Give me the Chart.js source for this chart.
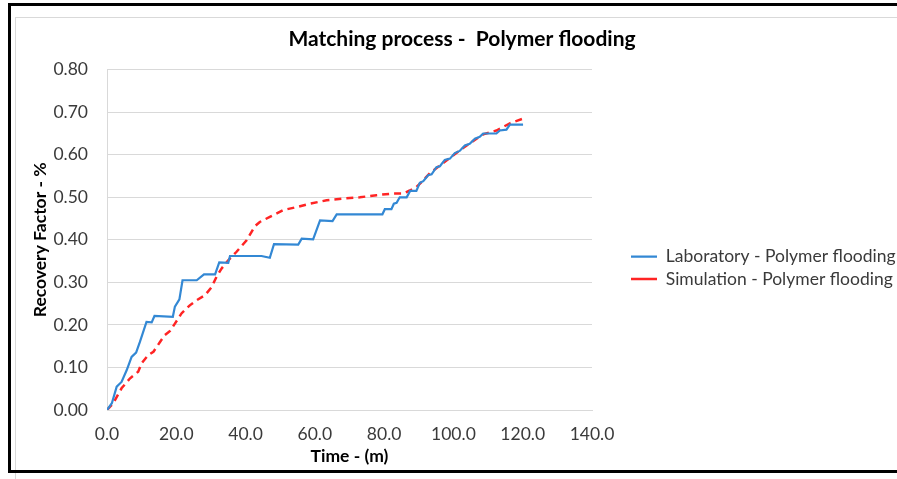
<!DOCTYPE html>
<html>
<head>
<meta charset="utf-8">
<script src="https://cdn.jsdelivr.net/npm/chart.js@4.4.1/dist/chart.umd.min.js"></script>
<style>
    html, body { margin: 0; padding: 0; background: #fff; }
    #wrap { position: relative; width: 897px; height: 479px; overflow: hidden; }
    #inner { position: absolute; left: 15px; top: 17px; width: 900px; height: 480px; border: 1px solid #d9d9d9; }
    #frame { position: absolute; left: 8px; top: 3px; width: 900px; height: 464px; border: 3px solid #000; }
    canvas { position: absolute; left: 0; top: 0; }
</style>
</head>
<body>
<div id="wrap">
    <div id="inner"></div>
    <div id="frame"></div>
    <canvas id="chart" width="897" height="479"></canvas>
</div>
<script>
var labTime = [0, 1.4, 2.8, 4.2, 5.7, 7.1, 8.4, 9.5, 11.4, 12.9,
    13.7, 19.0, 19.6, 20.9, 21.8, 25.9, 28.0, 31.2, 32.4, 35.0,
    35.5, 44.6, 47.0, 48.2, 55.2, 56.2, 59.5, 61.5, 65.1, 66.3,
    79.5, 80.2, 82.1, 82.8, 83.6, 84.5, 86.5, 87.5, 89.3, 90.3,
    91.3, 92.7, 93.7, 95.1, 96.1, 97.5, 99.0, 100.4, 101.8, 103.3,
    104.7, 106.2, 107.6, 108.6, 112.4, 113.4, 115.3, 116.3, 120.1];
var labRecovery = [0, 0.016, 0.055, 0.066, 0.094, 0.125, 0.135, 0.16, 0.207, 0.206,
    0.221, 0.219, 0.243, 0.26, 0.305, 0.305, 0.319, 0.319, 0.347, 0.346,
    0.362, 0.362, 0.358, 0.39, 0.389, 0.403, 0.401, 0.446, 0.444, 0.46,
    0.46, 0.472, 0.472, 0.485, 0.487, 0.50, 0.50, 0.515, 0.515, 0.534,
    0.538, 0.552, 0.554, 0.571, 0.573, 0.588, 0.591, 0.604, 0.609, 0.622,
    0.626, 0.638, 0.642, 0.65, 0.65, 0.657, 0.659, 0.671, 0.671];

var simTime = [0, 1.8, 4.2, 6.6, 9.0, 10.0, 11.9, 13.4, 15.3, 16.7,
    18.2, 19.6, 21.5, 23.9, 25.9, 28.3, 30.2, 31.6, 33.1, 35.0,
    37.4, 40.3, 42.7, 44.1, 47.0, 50.9, 54.7, 58.6, 63.4, 68.2,
    73.0, 77.8, 82.6, 85.5, 87.4, 89.3, 91.3, 93.2, 96.1, 99.0,
    101.8, 104.7, 108.6, 112.4, 116.3, 120.1];
var simRecovery = [0, 0.016, 0.051, 0.074, 0.09, 0.11, 0.129, 0.137, 0.16, 0.176,
    0.186, 0.203, 0.227, 0.246, 0.258, 0.27, 0.289, 0.313, 0.333, 0.352,
    0.372, 0.399, 0.432, 0.442, 0.454, 0.47, 0.477, 0.485, 0.493, 0.497,
    0.50, 0.505, 0.509, 0.509, 0.516, 0.524, 0.54, 0.557, 0.575, 0.593,
    0.61, 0.627, 0.648, 0.657, 0.674, 0.685];

var seriesNames = ["Laboratory - Polymer flooding", "Simulation - Polymer flooding"];
var chartTitle = "Matching process -  Polymer flooding";
var xTitle = "Time - (m)";
var yTitle = "Recovery Factor - %";

function toPoints(xs, ys) {
    return xs.map(function (x, i) { return { x: x, y: ys[i] }; });
}

var FONT = "Lato, 'Open Sans', sans-serif";
var TEXT = "#3a3a3a";

new Chart(document.getElementById("chart").getContext("2d"), {
    type: "line",
    data: {
        datasets: [
            {
                label: seriesNames[0],
                data: toPoints(labTime, labRecovery),
                borderColor: "#3388d4",
                backgroundColor: "#3388d4",
                borderWidth: 2.2,
                pointRadius: 0,
                tension: 0,
            },
            {
                label: seriesNames[1],
                data: toPoints(simTime, simRecovery),
                borderColor: "#ff2424",
                backgroundColor: "#ff2424",
                borderWidth: 2.5,
                borderDash: [7, 5],
                pointRadius: 0,
                tension: 0,
            },
        ],
    },
    options: {
        responsive: false,
        animation: false,
        // left padding only shifts the centred title to match the original
        layout: { padding: { top: 27, right: 0, bottom: 0, left: 27 } },
        scales: {
            x: {
                type: "linear",
                min: 0,
                max: 140,
                afterFit: function (s) { s.height = 69; },
                grid: { display: false, drawTicks: false },
                border: { display: true, color: "#d9d9d9", width: 1 },
                ticks: {
                    stepSize: 20,
                    padding: 14,
                    color: TEXT,
                    font: { family: FONT, size: 17.5 },
                    callback: function (v) { return v.toFixed(1); },
                },
                title: {
                    display: true,
                    text: xTitle,
                    color: "#000",
                    font: { family: FONT, size: 17.5, weight: "bold" },
                    padding: { top: 0, bottom: 12 },
                },
            },
            y: {
                min: 0,
                max: 0.8,
                afterFit: function (s) { s.width = 80; },
                grid: { color: "#d9d9d9", lineWidth: 1, drawTicks: false },
                border: { display: true, color: "#d9d9d9", width: 1 },
                ticks: {
                    stepSize: 0.1,
                    padding: 19,
                    color: TEXT,
                    font: { family: FONT, size: 17.5 },
                    callback: function (v) { return v.toFixed(2); },
                },
                title: {
                    display: true,
                    text: yTitle,
                    color: "#000",
                    font: { family: FONT, size: 17.5, weight: "bold" },
                    padding: { top: 3, bottom: 0 },
                },
            },
            gap: {
                type: "linear",
                position: "right",
                display: true,
                afterFit: function (s) { s.width = 34; },
                grid: { display: false },
                border: { display: false },
                ticks: { display: false },
            },
        },
        plugins: {
            title: {
                display: true,
                text: chartTitle,
                color: "#000",
                font: { family: FONT, size: 21, weight: "bold" },
                padding: { top: 0, bottom: 17.5 },
            },
            legend: {
                position: "right",
                fullSize: false,
                align: "center",
                maxWidth: 271,
                title: { display: true, text: "", padding: { top: 0, bottom: 32 }, font: { size: 20 } },
                labels: {
                    usePointStyle: true,
                    pointStyle: "line",
                    pointStyleWidth: 26,
                    padding: 5,
                    color: TEXT,
                    font: { family: FONT, size: 17.5 },
                },
            },
            tooltip: { enabled: false },
        },
    },
});
</script>
</body>
</html>
